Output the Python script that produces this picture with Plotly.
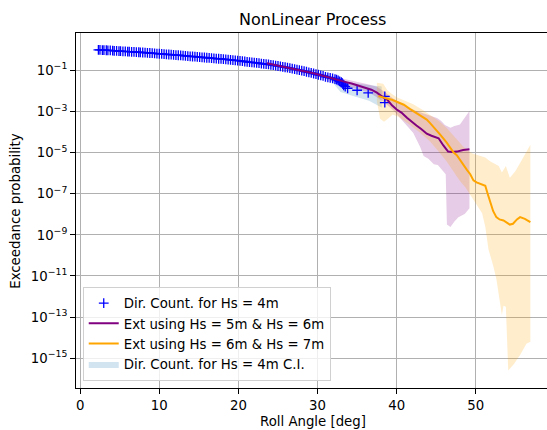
import plotly.graph_objects as go

# ---------------- data ----------------
# Directional counting, Hs = 4m : roll angle [deg] and log10(exceedance probability)
dir_x = [2.3, 2.5, 2.8, 3.0, 3.3, 3.5, 3.8, 4.1, 4.3, 4.6, 4.9, 5.1, 5.4, 5.7, 6.0, 6.2, 6.5, 6.8,
         7.1, 7.4, 7.6, 7.9, 8.2, 8.5, 8.8, 9.1, 9.4, 9.7, 10.0, 10.3, 10.6, 10.9, 11.2, 11.5,
         11.8, 12.1, 12.4, 12.7, 13.0, 13.3, 13.6, 13.9, 14.2, 14.5, 14.8, 15.1, 15.4, 15.7,
         16.0, 16.3, 16.6, 16.9, 17.2, 17.5, 17.8, 18.1, 18.4, 18.7, 19.0, 19.3, 19.6, 19.9,
         20.2, 20.5, 20.8, 21.1, 21.4, 21.7, 22.0, 22.3, 22.6, 22.9, 23.2, 23.5, 23.8, 24.1,
         24.4, 24.7, 25.0, 25.3, 25.6, 25.9, 26.2, 26.5, 26.8, 27.1, 27.4, 27.7, 28.0, 28.3,
         28.6, 28.9, 29.2, 29.5, 29.8, 30.1, 30.4, 30.7, 31.0, 31.3, 31.6, 31.9, 32.2, 32.4,
         32.6, 32.8, 33.0, 33.1, 33.2, 33.3, 33.5, 33.8, 35.0, 36.4, 38.5, 38.5]
dir_log10p = [0.0, -0.005, -0.01, -0.015, -0.02, -0.025, -0.03, -0.04, -0.045, -0.05, -0.058,
              -0.062, -0.07, -0.076, -0.083, -0.088, -0.095, -0.10, -0.11, -0.116, -0.12, -0.128,
              -0.136, -0.145, -0.154, -0.163, -0.172, -0.181, -0.19, -0.199, -0.208, -0.217,
              -0.226, -0.235, -0.244, -0.253, -0.263, -0.273, -0.283, -0.293, -0.303, -0.313,
              -0.323, -0.333, -0.343, -0.353, -0.363, -0.373, -0.383, -0.393, -0.403, -0.413,
              -0.423, -0.433, -0.443, -0.454, -0.466, -0.478, -0.49, -0.502, -0.514, -0.526,
              -0.539, -0.553, -0.566, -0.58, -0.593, -0.607, -0.62, -0.635, -0.65, -0.665,
              -0.68, -0.695, -0.71, -0.727, -0.746, -0.765, -0.785, -0.805, -0.825, -0.845,
              -0.866, -0.89, -0.914, -0.938, -0.962, -0.986, -1.01, -1.038, -1.066, -1.094,
              -1.122, -1.15, -1.18, -1.21, -1.24, -1.267, -1.31, -1.34, -1.36, -1.392, -1.42,
              -1.45, -1.489, -1.53, -1.568, -1.61, -1.665, -1.723, -1.79, -1.869, -1.966,
              -2.091, -2.267, -2.568]

# Confidence interval of the directional count
ci_x = [2.3, 10.0, 20.0, 26.0, 30.0, 31.5, 32.9, 34.5, 36.5, 38.1]
ci_upper_log10 = [0.02, -0.17, -0.51, -0.83, -1.16, -1.25, -1.55, -1.63, -1.70, -1.78]
ci_lower_log10 = [-0.02, -0.21, -0.57, -0.90, -1.26, -1.40, -2.05, -2.25, -2.48, -2.80]

# Extrapolation using Hs = 5m & Hs = 6m
ext56_x = [23.6, 24.5, 25.5, 26.5, 27.5, 28.5, 29.5, 30.3, 31.0, 31.6, 32.3, 32.9, 33.6, 34.3,
           35.0, 35.6, 36.2, 36.8, 37.5, 38.0, 38.4, 38.8, 39.4, 40.0, 40.6, 41.3, 41.9, 42.5,
           43.1, 43.8, 44.4, 45.0, 45.3, 45.9, 46.5, 47.0, 47.6, 48.4, 49.2]
ext56_log10p = [-0.65, -0.72, -0.80, -0.88, -0.97, -1.06, -1.14, -1.22, -1.30, -1.37, -1.44,
                -1.50, -1.57, -1.64, -1.72, -1.78, -1.85, -1.94, -2.08, -2.25, -2.34, -2.42,
                -2.70, -2.90, -3.05, -3.30, -3.50, -3.68, -3.85, -4.08, -4.18, -4.25, -4.30,
                -4.65, -4.95, -4.97, -4.95, -4.87, -4.84]
ext56_upper_x = [23.6, 25.0, 27.0, 29.0, 30.5, 32.0, 33.5, 35.0, 36.5, 37.5, 38.5, 39.5, 40.6,
                 41.5, 42.5, 43.5, 44.2, 45.1, 45.6, 46.1, 46.8, 47.3, 48.0, 48.6, 49.2]
ext56_upper_log10 = [-0.59, -0.70, -0.86, -1.03, -1.15, -1.30, -1.42, -1.55, -1.68, -1.80,
                     -2.05, -2.35, -2.62, -2.80, -2.98, -3.12, -3.20, -3.31, -3.45, -3.65,
                     -3.79, -3.70, -3.63, -3.30, -2.98]
ext56_lower_x = [23.6, 25.0, 27.0, 29.0, 30.5, 32.0, 33.5, 35.0, 36.5, 37.5, 38.4, 39.6, 40.8,
                 42.1, 43.0, 43.4, 44.0, 44.7, 45.2, 45.7, 46.2, 46.35, 46.8, 47.3, 47.8, 48.6,
                 49.2]
ext56_lower_log10 = [-0.72, -0.84, -1.02, -1.20, -1.33, -1.55, -1.75, -1.92, -2.08, -2.30,
                     -2.55, -2.95, -3.45, -4.05, -4.75, -5.16, -5.30, -5.57, -5.60, -5.85,
                     -6.05, -8.50, -8.62, -8.35, -8.14, -7.98, -7.70]

# Extrapolation using Hs = 6m & Hs = 7m
ext67_x = [37.7, 38.3, 38.9, 39.4, 40.2, 40.9, 41.7, 42.5, 43.1, 43.8, 44.2, 44.8, 45.5, 46.3,
           46.8, 47.2, 47.6, 48.0, 48.4, 48.9, 49.3, 49.7, 50.1, 50.8, 51.2, 51.5, 51.8, 52.2,
           52.6, 53.0, 53.5, 54.0, 54.3, 54.7, 55.2, 55.6, 56.2, 56.9]
ext67_log10p = [-2.25, -2.30, -2.38, -2.43, -2.55, -2.67, -2.88, -3.07, -3.22, -3.39, -3.55,
                -3.80, -4.12, -4.50, -4.75, -5.00, -5.12, -5.35, -5.60, -5.85, -6.05, -6.35,
                -6.45, -6.53, -6.61, -7.00, -7.42, -7.85, -8.14, -8.25, -8.30, -8.45, -8.50,
                -8.46, -8.25, -8.14, -8.22, -8.38]
ext67_upper_x = [37.5, 38.3, 38.8, 39.4, 40.0, 41.0, 42.1, 43.2, 44.2, 45.3, 46.3, 47.4, 48.4,
                 49.5, 50.1, 50.8, 51.2, 51.8, 52.9, 53.3, 53.8, 54.3, 55.0, 55.6, 56.2, 56.9]
ext67_upper_log10 = [-1.60, -1.65, -1.95, -2.15, -2.30, -2.45, -2.65, -2.90, -3.15, -3.45,
                     -3.79, -4.25, -4.70, -5.03, -5.10, -5.16, -5.24, -5.42, -5.65, -5.97,
                     -5.65, -6.22, -5.90, -5.50, -5.10, -4.62]
ext67_lower_x = [37.5, 37.9, 38.4, 38.9, 39.5, 40.2, 41.7, 43.0, 44.2, 45.3, 46.3, 47.2, 48.0,
                 48.7, 49.3, 50.1, 50.8, 51.2, 51.6, 52.2, 52.6, 53.3, 53.5, 53.8, 54.1, 54.8,
                 55.6, 56.4, 56.9]
ext67_lower_log10 = [-2.50, -3.35, -3.50, -3.35, -3.15, -3.25, -3.65, -4.05, -4.45, -4.95,
                     -5.42, -5.90, -6.38, -6.70, -7.02, -7.52, -7.95, -8.60, -9.70, -10.50,
                     -11.15, -12.90, -12.45, -12.50, -15.60, -15.30, -14.85, -14.30, -14.20]

x_ticks = [0, 10, 20, 30, 40, 50]
y_tick_exponents = [-1, -3, -5, -7, -9, -11, -13, -15]
y_tick_labels = ["10<sup>\u2212%d</sup>" % (-e) for e in y_tick_exponents]


def to_prob(logs):
    return [10.0 ** v for v in logs]


def band(xu, yu, xl, yl):
    return xu + xl[::-1], to_prob(yu + yl[::-1])


FONT = "DejaVu Sans"
fig = go.Figure()

bx, by = band(ci_x, ci_upper_log10, ci_x, ci_lower_log10)
fig.add_trace(go.Scatter(x=bx, y=by, mode="lines", fill="toself",
                         fillcolor="rgba(31,119,180,0.2)", line=dict(width=0, color="rgba(0,0,0,0)"),
                         name="Dir. Count. for Hs = 4m C.I.", legendrank=4, hoverinfo="skip"))

px_, py_ = band(ext56_upper_x, ext56_upper_log10, ext56_lower_x, ext56_lower_log10)
fig.add_trace(go.Scatter(x=px_, y=py_, mode="lines", fill="toself",
                         fillcolor="rgba(128,0,128,0.2)", line=dict(width=0, color="rgba(0,0,0,0)"),
                         showlegend=False, hoverinfo="skip"))

ox, oy = band(ext67_upper_x, ext67_upper_log10, ext67_lower_x, ext67_lower_log10)
fig.add_trace(go.Scatter(x=ox, y=oy, mode="lines", fill="toself",
                         fillcolor="rgba(255,165,0,0.2)", line=dict(width=0, color="rgba(0,0,0,0)"),
                         showlegend=False, hoverinfo="skip"))

fig.add_trace(go.Scatter(x=dir_x, y=to_prob(dir_log10p), mode="markers",
                         marker=dict(symbol="cross-thin", size=7, color="blue",
                                     line=dict(width=1.3, color="blue")),
                         name="Dir. Count. for Hs = 4m", legendrank=1))
fig.add_trace(go.Scatter(x=ext56_x, y=to_prob(ext56_log10p), mode="lines",
                         line=dict(color="purple", width=2),
                         name="Ext using Hs = 5m & Hs = 6m", legendrank=2))
fig.add_trace(go.Scatter(x=ext67_x, y=to_prob(ext67_log10p), mode="lines",
                         line=dict(color="orange", width=2),
                         name="Ext using Hs = 6m & Hs = 7m", legendrank=3))

axis_common = dict(showline=True, linecolor="black", linewidth=1, ticks="outside", ticklen=5,
                   tickwidth=1, tickcolor="black", showgrid=True, gridcolor="#b0b0b0",
                   gridwidth=1, zeroline=False, tickfont=dict(family=FONT, size=13.3, color="black"))

fig.update_layout(
    width=547, height=430,
    margin=dict(l=76, r=0, t=33, b=42, pad=0),
    paper_bgcolor="white", plot_bgcolor="white",
    font=dict(family=FONT, size=13.3, color="black"),
    showlegend=True,
    legend=dict(x=0.0143, y=0.02, xanchor="left", yanchor="bottom",
                bgcolor="rgba(255,255,255,0.8)", bordercolor="#d0d0d0", borderwidth=1,
                font=dict(family=FONT, size=13.3, color="black"), tracegroupgap=0),
    xaxis=dict(range=[-0.53, 59.0], tickvals=x_ticks, mirror=True, **axis_common),
    yaxis=dict(type="log", range=[-16.45, 0.82], tickvals=to_prob(y_tick_exponents),
               ticktext=y_tick_labels, **axis_common),
    annotations=[
        dict(text="NonLinear Process", x=0.502, y=1.038, xref="paper", yref="paper",
             xanchor="center", yanchor="middle", showarrow=False,
             font=dict(family=FONT, size=16, color="black")),
        dict(text="Roll Angle [deg]", x=0.503, y=-0.095, xref="paper", yref="paper",
             xanchor="center", yanchor="middle", showarrow=False,
             font=dict(family=FONT, size=13.3, color="black")),
        dict(text="Exceedance probability", x=-0.129, y=0.5, xref="paper", yref="paper",
             xanchor="center", yanchor="middle", showarrow=False, textangle=-90,
             font=dict(family=FONT, size=13.3, color="black")),
    ],
)

fig.write_html("out.html")
